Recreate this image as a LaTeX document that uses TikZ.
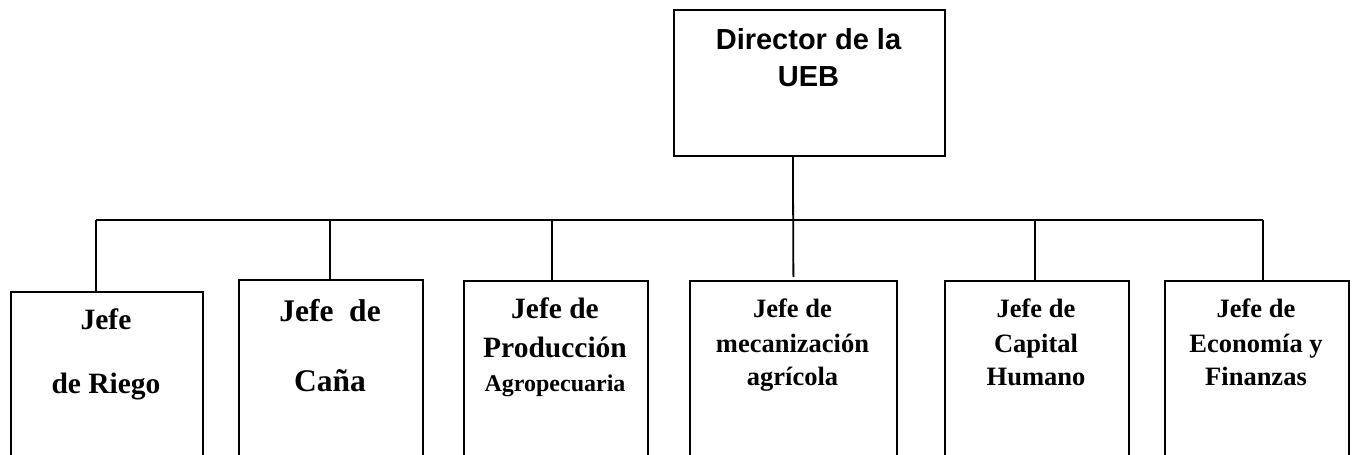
\documentclass[tikz,border=0pt]{standalone}
\usepackage{fontspec}
\setmainfont{Liberation Serif}
\newfontfamily\arialfont{Liberation Sans}
\begin{document}
\begin{tikzpicture}[x=1pt,y=-1pt,
  box/.style={draw, line width=1.8pt, inner sep=0pt, anchor=north west},
  ln/.style={line width=1.8pt},
  tx/.style={anchor=base, inner sep=0pt},
  fa/.style={font=\arialfont\bfseries\fontsize{29}{35}\selectfont},
  fb/.style={font=\bfseries\fontsize{29.5}{35}\selectfont},
  fc/.style={font=\bfseries\fontsize{31.5}{37}\selectfont},
  fd/.style={font=\bfseries\fontsize{26.5}{32}\selectfont},
  fe/.style={font=\bfseries\fontsize{24}{29}\selectfont}]
\clip (0,0) rectangle (1353,455);
\fill[white] (0,0) rectangle (1353,455);
% boxes
\node[box, minimum width=271pt, minimum height=146pt] (dir) at (673,9) {};
\node[box, minimum width=192pt, minimum height=200pt] (rie) at (10,291) {};
\node[box, minimum width=184pt, minimum height=200pt] (can) at (238,279) {};
\node[box, minimum width=184pt, minimum height=200pt] (pro) at (463,280) {};
\node[box, minimum width=207pt, minimum height=200pt] (mec) at (689,280) {};
\node[box, minimum width=184pt, minimum height=200pt] (cap) at (944,280) {};
\node[box, minimum width=184pt, minimum height=200pt] (eco) at (1164,280) {};
% texts
\node[tx, fa] (d1) at (808.5,49) {Director de la};
\node[tx, fa] (d2) at (808.5,86) {UEB};
\node[tx, fb] (r1) at (106,329) {Jefe};
\node[tx, fb] (r2) at (106,393) {de Riego};
\node[tx, fc] (c1) at (330,321) {Jefe\ \ de};
\node[tx, fc] (c2) at (330,391) {Caña};
\node[tx, fb] (p1) at (555,318) {Jefe de};
\node[tx, fb] (p2) at (555,357) {Producción};
\node[tx, fe] (p3) at (555,391) {Agropecuaria};
\node[tx, fd] (m1) at (792.5,317) {Jefe de};
\node[tx, fd] (m2) at (792.5,352) {mecanización};
\node[tx, fd] (m3) at (792.5,385) {agrícola};
\node[tx, fd] (k1) at (1036,317) {Jefe de};
\node[tx, fd] (k2) at (1036,352) {Capital};
\node[tx, fd] (k3) at (1036,385) {Humano};
\node[tx, fd] (e1) at (1256,317) {Jefe de};
\node[tx, fd] (e2) at (1256,352) {Economía y};
\node[tx, fd] (e3) at (1256,385) {Finanzas};
% connectors
\coordinate (busL) at (96,220);
\coordinate (busR) at (1263,220);
\draw[ln] (busL) -- (busR);
\draw[ln] ([xshift=-16.5pt]dir.south) -- ([yshift=3pt]mec.north);
\draw[ln] (busL) -- (busL |- rie.north);
\draw[ln] ([xshift=-1pt]can.north |- busL) -- ([xshift=-1pt]can.north);
\draw[ln] ([xshift=-4pt]pro.north |- busL) -- ([xshift=-4pt]pro.north);
\draw[ln] ([xshift=-2pt]cap.north |- busL) -- ([xshift=-2pt]cap.north);
\draw[ln] (busR) -- (busR |- eco.north);
\end{tikzpicture}
\end{document}
